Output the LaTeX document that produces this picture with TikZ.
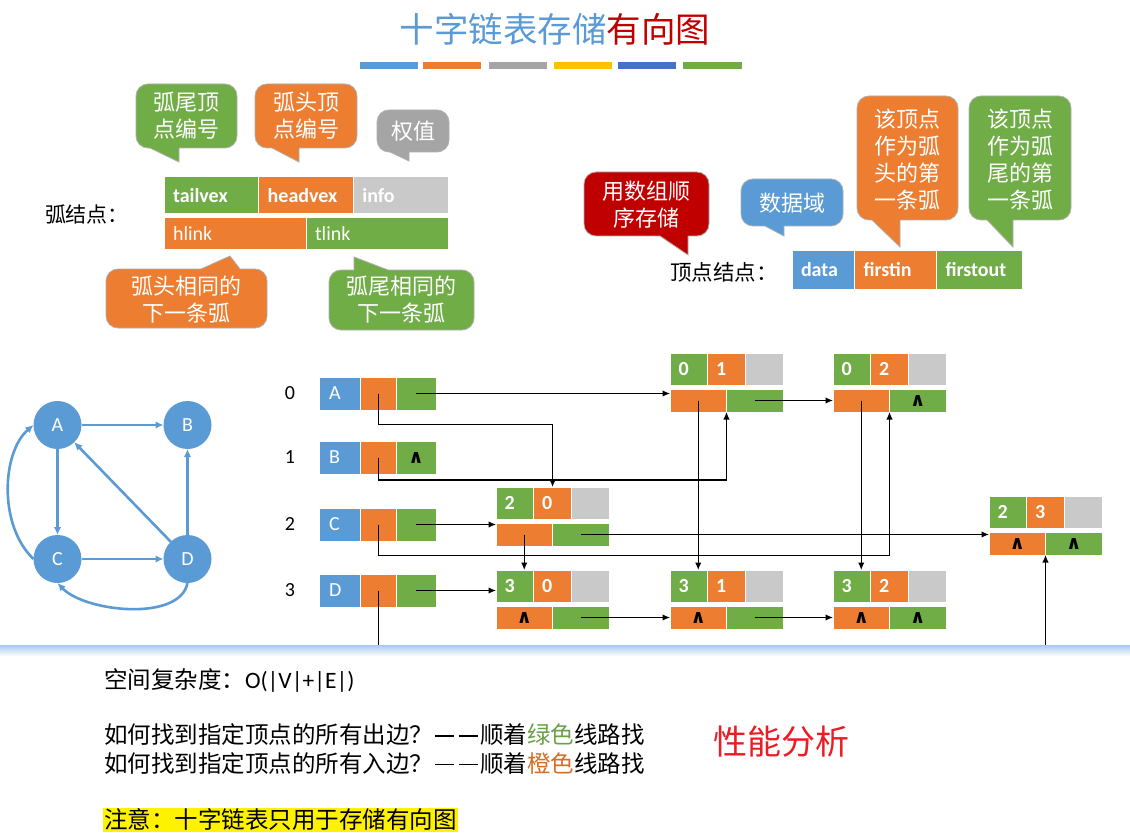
\documentclass[tikz,border=0pt]{standalone}
\usepackage{fontspec}
\setmainfont{Noto Sans CJK SC}
\newfontfamily\calfont{Carlito}
\newfontfamily\djv{DejaVu Sans}
\usetikzlibrary{arrows.meta}
\definecolor{cblue}{RGB}{91,155,213}
\definecolor{corange}{RGB}{237,125,49}
\definecolor{cgray}{RGB}{201,201,201}
\definecolor{cgrayc}{RGB}{165,165,165}
\definecolor{cgreen}{RGB}{112,173,71}
\definecolor{cyel}{RGB}{255,192,0}
\definecolor{cdblue}{RGB}{68,114,196}
\definecolor{cred}{RGB}{192,0,0}
\definecolor{cborder}{RGB}{175,175,175}
\definecolor{tgreen}{RGB}{106,160,72}
\definecolor{torange}{RGB}{212,110,40}
\definecolor{pred}{RGB}{235,28,36}
\definecolor{band}{RGB}{168,200,244}
\newcommand\cellfont{\calfont\fontsize{20}{22}\selectfont}
\newcommand\markfont{\djv\bfseries\fontsize{19}{19}\selectfont}
\newcommand\cjkcall{\fontsize{22}{27}\selectfont}
\newcommand\btfont{\fontsize{23.5}{28}\selectfont}
\newcommand\dsh{\makebox[1em]{\rule[0.3em]{0.82em}{0.075em}}}
\tikzset{
  every node/.style={inner sep=0pt, outer sep=0pt},
  cell/.style={draw=white, line width=1pt, anchor=north west, font=\cellfont, text=white},
  markc/.style={font=\markfont, text=black},
  numc/.style={font=\cellfont\bfseries, text width=20.7pt, inner xsep=8.5pt, align=left},
  idx/.style={font=\cellfont, text=black},
  gnode/.style={circle, fill=cblue, minimum size=48pt, font=\cellfont, text=white},
  gedge/.style={draw=cblue, line width=2.6pt, -{Latex[length=8pt,width=7.5pt]}},
  arr/.style={draw=black, line width=1.2pt, -{Latex[length=7.5pt,width=6.5pt]}},
  plainln/.style={draw=black, line width=1.2pt},
  ctext/.style={text=white, align=center, font=\cjkcall},
  btext/.style={anchor=west, font=\btfont, text=black},
}
% callout with tail at bottom: color, L, T, R, B, b1, b2, tipx, tipy
\newcommand\callD[9]{%
  \filldraw[fill=#1, draw=cborder, line width=0.8pt, rounded corners=12pt] (#2,#3) rectangle (#4,#5);
  \fill[#1] (#6,{#5-2}) -- (#6,#5) -- (#8,#9) -- (#7,#5) -- (#7,{#5-2}) -- cycle;
  \draw[cborder, line width=0.8pt] (#6,#5) -- (#8,#9) -- (#7,#5);
}
% callout with tail at top
\newcommand\callU[9]{%
  \filldraw[fill=#1, draw=cborder, line width=0.8pt, rounded corners=12pt] (#2,#3) rectangle (#4,#5);
  \fill[#1] (#6,{#3+2}) -- (#6,#3) -- (#8,#9) -- (#7,#3) -- (#7,{#3+2}) -- cycle;
  \draw[cborder, line width=0.8pt] (#6,#3) -- (#8,#9) -- (#7,#3);
}
% arc node: name, L, T, tail, head, hmark, tmark
\newcommand\arcnd[7]{%
  \node[cell, numc, fill=cgreen, minimum height=32pt] (#1t) at (#2,#3) {#4};
  \node[cell, numc, fill=corange, minimum height=32pt] (#1h) at ({#2+37.7},#3) {#5};
  \node[cell, fill=cgray, minimum width=37.7pt, minimum height=32pt] (#1i) at ({#2+75.4},#3) {};
  \node[cell, markc, fill=corange, minimum width=56.5pt, minimum height=23pt] (#1hl) at (#2,{#3+36}) {#6};
  \node[cell, markc, fill=cgreen, minimum width=56.5pt, minimum height=23pt] (#1tl) at ({#2+56.5},{#3+36}) {#7};
}
% vertex row: prefix, top, letter, green mark, index
\newcommand\vrow[5]{%
  \node[cell, fill=cblue, minimum height=33pt, text width=21pt, inner xsep=10pt, align=left] (#1v) at (319,#2) {#3};
  \node[cell, fill=corange, minimum width=35.5pt, minimum height=33pt] (#1h) at (360.5,#2) {};
  \node[cell, markc, fill=cgreen, minimum width=40pt, minimum height=33pt] (#1g) at (396,#2) {#4};
  \node[idx] (#1n) at (290,{#2+16.5}) {#5};
}
\begin{document}
\begin{tikzpicture}[x=1pt,y=-1pt]
\useasboundingbox (0,0) rectangle (1130,837);
\fill[white] (0,0) rectangle (1130,837);
% title
\node[font=\fontsize{34.5}{34.5}\selectfont] (title) at (555,29) {\textcolor{cblue}{十字链表存储}\textcolor{cred}{有向图}};
\fill[cblue] (360,62) rectangle (418,69);
\fill[corange] (423,62) rectangle (481,69);
\fill[cgrayc] (489,62) rectangle (547,69);
\fill[cyel] (554,62) rectangle (612,69);
\fill[cdblue] (618,62) rectangle (676,69);
\fill[cgreen] (683,62) rectangle (742,69);
% arc node legend
\node[anchor=west, font=\fontsize{21}{21}\selectfont] (arclbl) at (45,214) {弧结点：};
\node[cell, fill=cgreen, minimum height=37pt, text width=76.7pt, inner xsep=9pt, align=left, font=\cellfont\bfseries] (lt) at (164,177) {tailvex};
\node[cell, fill=corange, minimum height=37pt, text width=76.7pt, inner xsep=9pt, align=left, font=\cellfont\bfseries] (lh) at (258.7,177) {headvex};
\node[cell, fill=cgray, minimum height=37pt, text width=76.7pt, inner xsep=9pt, align=left, font=\cellfont\bfseries] (li) at (353.4,177) {info};
\node[cell, fill=corange, minimum height=32pt, text width=124pt, inner xsep=9pt, align=left] (lhl) at (164,218) {hlink};
\node[cell, fill=cgreen, minimum height=32pt, text width=124pt, inner xsep=9pt, align=left] (ltl) at (306,218) {tlink};
% vertex node legend
\node[anchor=west, font=\fontsize{21.5}{21.5}\selectfont] (vlbl) at (670,272) {顶点结点：};
\node[cell, fill=cblue, minimum height=38pt, text width=44.5pt, inner xsep=9pt, align=left, font=\cellfont\bfseries] (vd) at (792,251) {data};
\node[cell, fill=corange, minimum height=38pt, text width=64pt, inner xsep=9pt, align=left, font=\cellfont\bfseries] (vi) at (854.5,251) {firstin};
\node[cell, fill=cgreen, minimum height=38pt, text width=67.5pt, inner xsep=9pt, align=left, font=\cellfont\bfseries] (vo) at (936.5,251) {firstout};
% callouts
\callD{cgreen}{136}{84}{237}{148}{150}{179}{179}{162}
\callD{corange}{255}{84}{357}{148}{272}{299}{299}{162}
\callD{cgrayc}{377}{110}{449}{152}{390}{409}{409}{161}
\callU{corange}{106}{269}{267}{328}{201}{240}{230}{256}
\callU{cgreen}{329}{270}{474}{330}{354}{388}{354}{257}
\callD{cred}{584}{172}{709}{236}{660}{688}{688}{255}
\callD{cblue}{741}{179}{843}{226}{765}{784}{784}{236}
\callD{corange}{857}{96}{958}{220}{872}{900}{900}{247}
\callD{cgreen}{969}{96}{1071}{220}{987}{1013}{1013}{247}
\node[ctext] (c1) at (186.5,116) {弧尾顶\\点编号};
\node[ctext] (c2) at (306,116) {弧头顶\\点编号};
\node[ctext] (c3) at (413,131) {权值};
\node[ctext] (c4) at (186.5,300) {弧头相同的\\下一条弧};
\node[ctext] (c5) at (401.5,300) {弧尾相同的\\下一条弧};
\node[ctext] (c6) at (646.5,205) {用数组顺\\序存储};
\node[ctext] (c7) at (792,203) {数据域};
\node[ctext] (c8) at (907.5,159.5) {该顶点\\作为弧\\头的第\\一条弧};
\node[ctext] (c9) at (1020,159.5) {该顶点\\作为弧\\尾的第\\一条弧};
% graph
\node[gnode] (gA) at (57.5,425) {A};
\node[gnode] (gB) at (187.5,425) {B};
\node[gnode] (gC) at (57.5,559) {C};
\node[gnode] (gD) at (187.5,559) {D};
\draw[gedge] (gA) -- (gB);
\draw[gedge] (gA) -- (gC);
\draw[gedge] (gC) -- (gD);
\draw[gedge] (gD) -- (gB);
\draw[gedge] (gD) -- (gA);
\draw[gedge] (gC.west) .. controls (-2,525) and (2,452) .. (gA.west);
\draw[gedge] (gD.south) .. controls (180,622) and (85,612) .. (gC.south);
% vertex table
\vrow{A}{377}{A}{}{0}
\vrow{B}{441}{B}{∧}{1}
\vrow{C}{508}{C}{}{2}
\vrow{D}{574}{D}{}{3}
% arc nodes
\arcnd{N01}{670}{353}{0}{1}{}{}
\arcnd{N02}{833}{353}{0}{2}{}{∧}
\arcnd{N20}{496}{487}{2}{0}{}{}
\arcnd{N23}{989}{496}{2}{3}{∧}{∧}
\arcnd{N30}{496}{570}{3}{0}{∧}{}
\arcnd{N31}{670}{570}{3}{1}{∧}{}
\arcnd{N32}{833}{570}{3}{2}{∧}{∧}
% links
\draw[arr] (Ag.center) -- (Ag.center -| N01t.west);
\draw[arr] (N01tl.center) -- (N02hl.west);
\draw[arr] (Ah.center) -- ++(0,31) -| (N20h.north);
\draw[arr] (Bh.center) -- ++(0,22.5) -| (N01hl.south east);
\draw[arr] (Cg.center) -- (Cg.center -| N20t.west);
\draw[arr] (Ch.center) -- ++(0,31) -| (N02hl.south east);
\draw[arr] (N20tl.center) -- (N20tl.center -| N23hl.west);
\draw[arr] (N20hl.center) -- (N20hl.center |- N30t.north);
\draw[arr] (N01hl.center) -- (N01hl.center |- N31t.north);
\draw[arr] (N02hl.center) -- (N02hl.center |- N32t.north);
\draw[arr] (Dg.center) -- (Dg.center -| N30t.west);
\draw[arr] (N30tl.center) -- (N31hl.west);
\draw[arr] (N31tl.center) -- (N32hl.west);
\coordinate (cut) at (0,664);
\draw[plainln] (Dh.center) -- (Dh.center |- cut);
\coordinate (up23) at (N23hl.south east |- cut);
\draw[arr] (up23) -- (N23hl.south east);
% lower panel
\shade[top color=band, bottom color=white] (0,645) rectangle (1130,656);
\fill[white] (0,656) rectangle (1130,837);
\node[btext] (s1) at (104,680) {空间复杂度：{\calfont O(|V|+|E|)}};
\node[btext] (s2) at (104,735) {如何找到指定顶点的所有出边？\dsh\dsh 顺着\textcolor{tgreen}{绿色}线路找};
\node[btext] (s3) at (104,763.5) {如何找到指定顶点的所有入边？\dsh\dsh 顺着\textcolor{torange}{橙色}线路找};
\node[btext, fill=yellow, inner xsep=1pt, inner ysep=1.5pt] (s4) at (103,820) {注意：十字链表只用于存储有向图};
\node[font=\fontsize{34}{34}\selectfont, text=pred] (perf) at (781,742) {性能分析};
\end{tikzpicture}
\end{document}
